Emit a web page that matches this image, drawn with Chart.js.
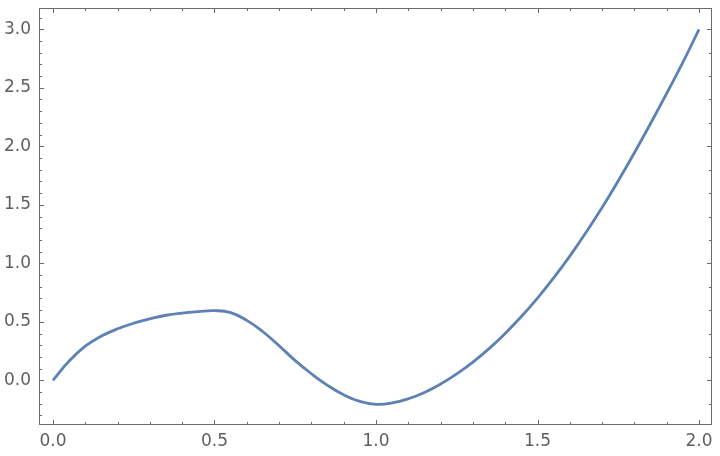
<!DOCTYPE html>
<html>
<head>
<meta charset="utf-8">
<script src="https://cdn.jsdelivr.net/npm/chart.js@4.4.1/dist/chart.umd.min.js"></script>
<style>
  html, body { margin: 0; padding: 0; background: #fff; }
  #chart { display: block; }
</style>
</head>
<body>
<canvas id="chart" width="720" height="456"></canvas>
<script>
const xValues = [
    0.00, 0.05, 0.10, 0.15, 0.20, 0.25, 0.30, 0.35, 0.40, 0.45,
    0.50, 0.55, 0.60, 0.65, 0.70, 0.75, 0.80, 0.85, 0.90, 0.95,
    1.00, 1.05, 1.10, 1.15, 1.20, 1.25, 1.30, 1.35, 1.40, 1.45,
    1.50, 1.55, 1.60, 1.65, 1.70, 1.75, 1.80, 1.85, 1.90, 1.95,
    2.00,
];
const yValues = [
    0.000, 0.165, 0.292, 0.378, 0.440, 0.488, 0.525, 0.556, 0.575, 0.587,
    0.595, 0.578, 0.512, 0.415, 0.295, 0.168, 0.056, -0.043, -0.124, -0.180,
    -0.205, -0.193, -0.158, -0.104, -0.032, 0.055, 0.156, 0.271, 0.401, 0.545,
    0.703, 0.875, 1.061, 1.263, 1.476, 1.705, 1.945, 2.195, 2.452, 2.717,
    3.000,
];

// tick labels and tick marks
const xTickLabels = [0, 0.5, 1, 1.5, 2];
const xMinorTicks = [0.1, 0.2, 0.3, 0.4, 0.6, 0.7, 0.8, 0.9, 1.1, 1.2, 1.3, 1.4, 1.6, 1.7, 1.8, 1.9];
const yTickLabels = [0, 0.5, 1, 1.5, 2, 2.5, 3];
const yMinorTicks = [-0.3, -0.2, -0.1, 0.1, 0.2, 0.3, 0.4, 0.6, 0.7, 0.8, 0.9, 1.1, 1.2, 1.3, 1.4,
    1.6, 1.7, 1.8, 1.9, 2.1, 2.2, 2.3, 2.4, 2.6, 2.7, 2.8, 2.9, 3.1];
const rightMajorTicks = [0, 1, 2, 3];
const rightMinorTicks = [-0.2, 0.2, 0.4, 0.6, 0.8, 1.2, 1.4, 1.6, 1.8, 2.2, 2.4, 2.6, 2.8];

const frameColor = "#6b6b6b";
const labelColor = "#5f5f5f";

// frame + inward tick marks, positioned through the scales
const frameTicks = {
    id: "frameTicks",
    afterDatasetsDraw(chart) {
        const { ctx, chartArea: a, scales } = chart;
        const xs = scales.x, ys = scales.y;
        ctx.save();
        ctx.strokeStyle = frameColor;
        ctx.lineWidth = 1;
        ctx.strokeRect(Math.round(a.left) + 0.5, Math.round(a.top) + 0.5,
            Math.round(a.right - a.left) - 1, Math.round(a.bottom - a.top) - 1);

        const vTick = (v, len) => {
            const px = Math.round(xs.getPixelForValue(v)) + 0.5;
            ctx.moveTo(px, a.bottom); ctx.lineTo(px, a.bottom - len);
            ctx.moveTo(px, a.top); ctx.lineTo(px, a.top + len);
        };
        const leftTick = (v, len) => {
            const py = Math.round(ys.getPixelForValue(v)) + 0.5;
            ctx.moveTo(a.left, py); ctx.lineTo(a.left + len, py);
        };
        const rightTick = (v, len) => {
            const py = Math.round(ys.getPixelForValue(v)) + 0.5;
            ctx.moveTo(a.right, py); ctx.lineTo(a.right - len, py);
        };
        ctx.beginPath();
        xTickLabels.forEach(v => vTick(v, 5));
        xMinorTicks.forEach(v => vTick(v, 3));
        yTickLabels.forEach(v => leftTick(v, 5));
        yMinorTicks.forEach(v => leftTick(v, 3));
        rightMajorTicks.forEach(v => rightTick(v, 5));
        rightMinorTicks.forEach(v => rightTick(v, 3));
        ctx.stroke();
        ctx.restore();
    },
};

const tickFont = { family: "DejaVu Sans", size: 17 };

new Chart(document.getElementById("chart"), {
    type: "line",
    data: {
        datasets: [{
            data: xValues.map((x, i) => ({ x: x, y: yValues[i] })),
            borderColor: "#5E81B5",
            borderWidth: 2.8,
            pointRadius: 0,
            fill: false,
            tension: 0.45,
        }],
    },
    options: {
        responsive: false,
        animation: false,
        layout: { padding: { top: 8, right: 8, left: 0, bottom: 0 } },
        plugins: {
            legend: { display: false },
            tooltip: { enabled: false },
        },
        scales: {
            x: {
                type: "linear",
                min: -0.0433,
                max: 2.0402,
                grid: { display: false, drawTicks: false },
                border: { display: false },
                afterBuildTicks: s => { s.ticks = xTickLabels.map(v => ({ value: v })); },
                afterFit: s => { s.height = 31; s.paddingLeft = 0; s.paddingRight = 0; },
                ticks: {
                    color: labelColor,
                    font: tickFont,
                    padding: 6,
                    maxRotation: 0,
                    autoSkip: false,
                    callback: v => v.toFixed(1),
                },
            },
            y: {
                type: "linear",
                min: -0.382,
                max: 3.182,
                grid: { display: false, drawTicks: false },
                border: { display: false },
                afterBuildTicks: s => { s.ticks = yTickLabels.map(v => ({ value: v })); },
                afterFit: s => { s.width = 39; s.paddingTop = 0; s.paddingBottom = 0; },
                ticks: {
                    color: labelColor,
                    font: tickFont,
                    padding: 8,
                    autoSkip: false,
                    callback: v => v.toFixed(1),
                },
            },
        },
    },
    plugins: [frameTicks],
});
</script>
</body>
</html>
